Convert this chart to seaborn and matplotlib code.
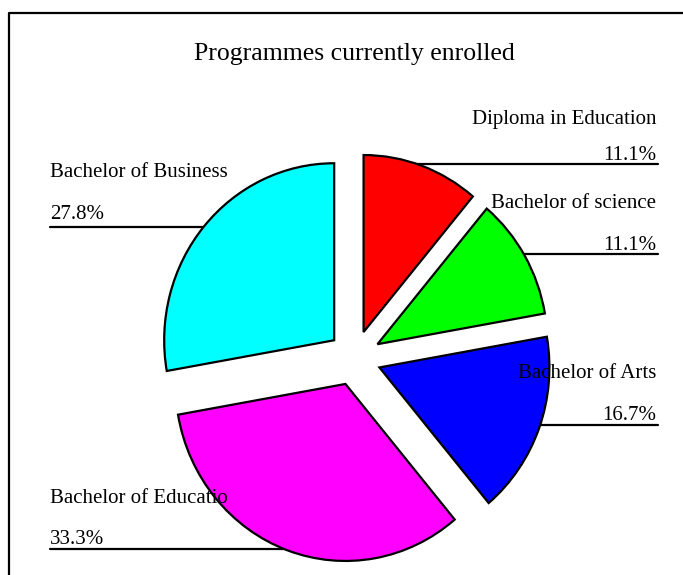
import matplotlib
matplotlib.use("Agg")
import matplotlib.pyplot as plt
import seaborn as sns

# Enrolment counts by programme (clockwise from 12 o'clock)
programmes = ["Diploma in Education", "Bachelor of science", "Bachelor of Arts",
              "Bachelor of Educatio", "Bachelor of Business"]
students = [2, 2, 3, 6, 5]
slice_colors = ["#ff0000", "#00ff00", "#0000ff", "#ff00ff", "#00ffff"]
title = "Programmes currently enrolled"

sns.set_theme(style="white")
plt.rcParams["font.family"] = ["Liberation Serif", "DejaVu Serif"]
palette = sns.color_palette(slice_colors)

W, H = 683, 575
fig = plt.figure(figsize=(W / 100, H / 100), dpi=100)


def py(y):
    """Convert a top-down pixel row into a bottom-up coordinate."""
    return H - y


def layer(z):
    a = fig.add_axes([0, 0, 1, 1], zorder=z)
    a.set_xlim(0, W)
    a.set_ylim(0, H)
    a.axis("off")
    a.patch.set_alpha(0)
    return a


base = layer(0)   # frame and leader lines
text_ax = layer(2)  # labels on top of the pie

# Pie layer: slightly oval, as on the slide the chart came from
cx, cy = 354.5, 358.0
rx, ry = 170.0, 177.0
pie_ax = fig.add_axes([0, 0, 1, 1], zorder=1)
pie_ax.patch.set_alpha(0)
wedges, _ = pie_ax.pie(students, colors=palette, startangle=90, counterclock=False,
                       radius=1.0, explode=[0.156] * len(students),
                       wedgeprops=dict(edgecolor="black", linewidth=1.6))
pie_ax.set_aspect("auto")
pie_ax.set_xlim(-cx / rx, (W - cx) / rx)
pie_ax.set_ylim((cy - H) / ry, cy / ry)
pie_ax.axis("off")

total = sum(students)
pct = [f"{v / total * 100:.1f}%" for v in students]

# Outer frame (top and left edges; the rest runs off the canvas)
base.plot([9, 9, W + 10], [-10, py(13), py(13)], color="black", lw=1.6,
          clip_on=False)

text_ax.text(354, py(60), title, ha="center", va="baseline", fontsize=18.5,
             color="black")

fs = 15
# Right-hand labels: (slice, name baseline, pct baseline, line y, line start x)
right_specs = [
    (0, 124, 160, 164, 370),
    (1, 208, 250, 254, 460),
    (2, 378, 420, 425, 440),
]
for i, yb_name, yb_pct, yl, x0 in right_specs:
    text_ax.text(656, py(yb_name), programmes[i], ha="right", va="baseline",
                 fontsize=fs, color="black")
    text_ax.text(656, py(yb_pct), pct[i], ha="right", va="baseline",
                 fontsize=fs, color="black")
    base.plot([x0, 658], [py(yl), py(yl)], color="black", lw=1.6)

# Left-hand labels
left_specs = [
    (4, 177, 219, 227, 320),
    (3, 503, 544, 549, 340),
]
for i, yb_name, yb_pct, yl, x1 in left_specs:
    text_ax.text(50, py(yb_name), programmes[i], ha="left", va="baseline",
                 fontsize=fs, color="black")
    text_ax.text(50, py(yb_pct), pct[i], ha="left", va="baseline",
                 fontsize=fs, color="black")
    base.plot([50, x1], [py(yl), py(yl)], color="black", lw=1.6)

fig.savefig("out.png", dpi=100, facecolor="white")
